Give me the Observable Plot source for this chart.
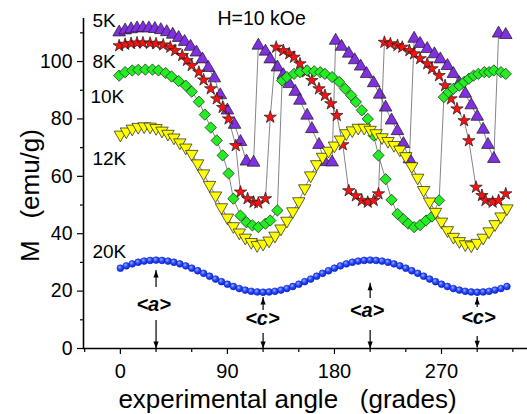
<!DOCTYPE html>
<html><head><meta charset="utf-8">
<script src="https://cdn.jsdelivr.net/npm/d3@7"></script>
<script src="https://cdn.jsdelivr.net/npm/@observablehq/plot@0.6"></script>
<style>
html,body{margin:0;padding:0;background:#fff;}
svg text{white-space:pre;}
</style></head><body>
<div id="chart"></div>
<script>
// ---- data ----
const angle5K = [-1,4,9,14,19,24,29,34,39,44,49,54,59,64,69,74,79,84,90,96,101,106,112,
  116,122,126,132,137,142,147,151,157,161,167,172,178,
  181,186,192,197,202,207,213,218,223,228,233,238,243,
  247,252,258,264,269,275,280,285,290,295,300,305,309,314,
  318,324];
const m5K = [110.2,110.9,111.3,111.6,111.7,111.6,111.4,111.0,110.3,109.4,108.3,106.9,105.2,103.2,100.8,97.8,94.2,88.3,83.0,78.0,72.0,65.2,64.8,
  105.6,103.5,100.8,98.0,95.3,92.2,89.5,86.4,81.2,76.5,71.0,65.0,64.9,
  107.3,105.2,102.8,100.5,98.3,95.7,92.5,88.5,84.0,79.5,75.8,71.3,66.0,
  108.0,106.2,104.4,102.6,100.8,98.5,95.7,92.5,88.8,84.8,80.8,76.3,71.0,66.1,
  109.8,109.3];

const angle8K = [-1,4,9,14,19,25,30,36,42,46,52,56,60,66,70,76,81,86,91,97,101,107,112,116,122,126,
  131,137,142,146,151,156,161,167,172,177,182,187,192,198,203,208,213,217,
  222,227,233,237,243,247,252,258,262,268,273,278,283,289,293,299,304,307,313,318,324];
const m8K = [105.5,106.0,106.3,106.5,106.5,106.4,106.2,105.8,105.0,103.8,102.1,100.4,98.6,96.3,93.6,90.5,87.0,84.0,80.0,70.7,54.5,52.2,51.0,50.7,52.2,80.6,
  105.0,103.8,102.7,101.5,99.2,96.4,93.4,90.5,88.2,85.3,81.2,71.0,55.0,53.2,51.6,51.0,51.6,53.9,
  106.7,106.2,105.6,105.0,103.8,102.7,101.0,99.2,97.5,95.1,91.6,87.0,83.5,79.4,72.4,56.2,53.3,51.6,51.0,51.6,53.9];

const angle10K = [-1,4,10,15,21,27,32,38,43,49,55,60,66,71,76,81,86,91,95,101,106,111,116,122,126,132,
  136,140,146,151,157,163,168,172,178,184,189,194,198,203,208,213,217,223,228,233,238,242,247,252,257,262,268,
  272,276,280,285,289,293,297,301,306,310,314,320,324];
const m10K = [95.1,96.3,96.9,97.1,97.2,97.2,96.9,96.0,94.8,93.2,91.6,89.5,86.0,81.5,77.0,72.5,67.3,61.0,52.2,46.3,44.0,42.9,42.3,43.5,44.6,48.1,
  93.4,94.6,95.7,96.3,96.9,96.6,96.3,95.7,94.6,92.9,90.5,88.2,85.9,83.0,80.0,74.2,67.3,59.0,51.8,46.9,45.0,43.5,42.3,43.0,44.6,46.0,51.6,
  87.6,89.3,90.5,91.6,92.9,94.0,95.1,95.7,96.3,96.3,96.9,96.3,95.7];

const angle12K = [0,5,10,15,20,25,30,35,40,45,50,55,60,65,70,75,80,85,90,95,100,105,110,115,120,125,130,135,140,145,150,155,160,165,170,175,180,185,190,195,200,205,210,215,220,225,230,235,240,245,250,255,260,265,270,275,280,285,290,295,300,305,310,315,320,325];
const m12K = [74.5,75.6,76.6,77.2,77.4,77.3,76.8,75.9,74.8,73.5,71.8,70.0,67.8,64.5,61.0,57.0,53.3,49.2,45.6,42.6,40.4,38.6,37.1,36.0,36.5,37.6,39.3,41.8,44.5,47.8,51.3,55.8,60.3,64.2,66.8,68.9,70.7,72.8,75.0,76.0,76.9,76.9,76.2,75.0,73.6,72.3,70.9,69.3,67.0,63.5,59.5,55.2,51.2,47.6,44.2,41.2,38.9,37.4,36.3,35.9,36.8,38.6,40.8,43.3,46.0,48.8];

const angle20K = [0,5,10,15,20,25,30,35,40,45,50,55,60,65,70,75,80,85,90,95,100,105,110,115,120,125,130,135,140,145,150,155,160,165,170,175,180,185,190,195,200,205,210,215,220,225,230,235,240,245,250,255,260,265,270,275,280,285,290,295,300,305,310,315,320,325];
const m20K = [28.0,28.8,29.5,30.05,30.46,30.7,30.8,30.7,30.46,30.05,29.5,28.8,28.0,27.1,26.2,25.2,24.2,23.3,22.4,21.6,20.9,20.35,19.94,19.7,19.6,19.7,19.94,20.35,20.9,21.6,22.4,23.3,24.2,25.2,26.2,27.1,28.0,28.8,29.5,30.05,30.46,30.7,30.8,30.7,30.46,30.05,29.5,28.8,28.0,27.1,26.2,25.2,24.2,23.3,22.4,21.6,20.9,20.35,19.94,19.7,19.6,19.7,19.94,20.35,20.9,21.6];

const xTicksMajor = [0, 90, 180, 270];
const xTicksMinor = [-30, 30, 60, 120, 150, 210, 240, 300, 330];
const yTicksMajor = [0, 20, 40, 60, 80, 100];
const yTicksMinor = [10, 30, 50, 70, 90, 110];

const tempLabels = ["5K", "8K", "10K", "12K", "20K"];
const tempLabelX = [-23.5, -23.5, -25.2, -23.5, -23.5];
const tempLabelY = [111.9, 97.9, 85.7, 63.8, 31.7];

const axisLabels = ["<a>", "<c>", "<a>", "<c>"];
const axisLabelX = [28, 119.4, 207.4, 301];
const axisLabelY = [15.3, 10.3, 13.2, 10.6];
const arrowX = [30, 120, 210, 300];
const upFrom = [21.3, 13.2, 17.4, 14.3];
const upTo = [27.2, 17.8, 22.7, 17.8];
const downFrom = [9.8, 5.2, 6.3, 4.2];
const downTo = [0, 0, 0, 0.3];

// ---- build ----
const rows = (a, m) => a.map((x, i) => ({x, y: m[i]}));
const s5 = rows(angle5K, m5K), s8 = rows(angle8K, m8K), s10 = rows(angle10K, m10K),
      s12 = rows(angle12K, m12K), s20 = rows(angle20K, m20K);
const arrows = arrowX.map((x, i) => ({x, uf: upFrom[i], ut: upTo[i], df: downFrom[i], dt: downTo[i]}));
const tlabels = tempLabels.map((t, i) => ({t, x: tempLabelX[i], y: tempLabelY[i]}));
const alabels = axisLabels.map((t, i) => ({t, x: axisLabelX[i], y: axisLabelY[i]}));

const s3 = Math.sqrt(3);
const triDown = {draw(ctx, size) { const y = Math.sqrt(size / (s3 * 3)); ctx.moveTo(0, 2 * y); ctx.lineTo(-s3 * y, -y); ctx.lineTo(s3 * y, -y); ctx.closePath(); }};
const headUp = {draw(ctx) { ctx.moveTo(0, 0); ctx.lineTo(2.6, 7); ctx.lineTo(-2.6, 7); ctx.closePath(); }};
const headDown = {draw(ctx) { ctx.moveTo(0, 0); ctx.lineTo(2.6, -7); ctx.lineTo(-2.6, -7); ctx.closePath(); }};

const lineOpts = {x: "x", y: "y", stroke: "#333", strokeWidth: 0.6};
const font = "'Liberation Sans', Arial, Helvetica, sans-serif";

const chart = Plot.plot({
  width: 527, height: 414,
  marginLeft: 83, marginRight: 0, marginTop: 18, marginBottom: 66,
  x: {domain: [-31, 342.3]},
  y: {domain: [0, 115]},
  style: {fontFamily: font, background: "white", color: "black", overflow: "visible"},
  marks: [
    Plot.axisX({ticks: xTicksMinor, tickSize: 4, tickFormat: () => "", label: null, strokeWidth: 1.2}),
    Plot.axisX({ticks: xTicksMajor, tickSize: 6, tickPadding: 9, fontSize: 20, label: null, strokeWidth: 1.2}),
    Plot.axisY({ticks: yTicksMinor, tickSize: 3, tickFormat: () => "", label: null, strokeWidth: 1.2}),
    Plot.axisY({ticks: yTicksMajor, tickSize: 6, tickPadding: 5, fontSize: 19.5, label: null, strokeWidth: 1.2}),
    Plot.ruleX([-31], {strokeWidth: 1.6}),
    Plot.ruleY([0], {strokeWidth: 1.6}),
    // arrows
    Plot.ruleX(arrows, {x: "x", y1: "uf", y2: "ut", strokeWidth: 1.2}),
    Plot.ruleX(arrows, {x: "x", y1: "df", y2: "dt", strokeWidth: 1.2}),
    Plot.dot(arrows, {x: "x", y: "ut", symbol: headUp, r: 3, fill: "black", stroke: "none"}),
    Plot.dot(arrows, {x: "x", y: "dt", symbol: headDown, r: 3, fill: "black", stroke: "none"}),
    Plot.text(alabels, {x: "x", y: "y", text: "t", fontSize: 20, fontWeight: "bold", fontStyle: "italic", lineAnchor: "middle"}),
    // series
    Plot.line(s5, lineOpts),
    Plot.dot(s5, {x: "x", y: "y", symbol: "triangle", r: 4.7, fill: "#8030e0", stroke: "#1a1a1a", strokeWidth: 0.7}),
    Plot.line(s8, lineOpts),
    Plot.dot(s8, {x: "x", y: "y", symbol: "star", r: 3.9, fill: "#ff1010", stroke: "#1a1a1a", strokeWidth: 0.7}),
    Plot.line(s10, lineOpts),
    Plot.dot(s10, {x: "x", y: "y", symbol: "diamond2", r: 5.1, fill: "#22ee22", stroke: "#1a1a1a", strokeWidth: 0.7}),
    Plot.line(s12, lineOpts),
    Plot.dot(s12, {x: "x", y: "y", symbol: triDown, r: 4.6, fill: "#ffff00", stroke: "#1a1a1a", strokeWidth: 0.7}),
    Plot.dot(s20, {x: "x", y: "y", symbol: "circle", r: 3.4, fill: "url(#ball)", stroke: "#0a1fc8", strokeWidth: 0.6}),
    // labels
    Plot.text(tlabels, {x: "x", y: "y", text: "t", fontSize: 19, textAnchor: "start", lineAnchor: "bottom"}),
    Plot.text(["H=10 kOe"], {x: 81.6, y: 112.6, fontSize: 19.5, textAnchor: "start", lineAnchor: "bottom"}),
    Plot.text(["M   (emu/g)"], {frameAnchor: "left", dx: -45, dy: 12, rotate: -90, fontSize: 26, textAnchor: "middle", lineAnchor: "bottom"}),
    Plot.text(["experimental angle   (grades)"], {frameAnchor: "bottom", dx: -18, dy: 59, fontSize: 26, textAnchor: "middle", lineAnchor: "bottom"})
  ]
});
d3.select(chart).insert("defs", ":first-child").html(
  '<radialGradient id="ball" cx="38%" cy="35%" r="65%"><stop offset="0%" stop-color="#9fb4ff"/><stop offset="45%" stop-color="#2f52ff"/><stop offset="100%" stop-color="#0b25d8"/></radialGradient>');
document.getElementById("chart").appendChild(chart);
</script>
</body></html>
